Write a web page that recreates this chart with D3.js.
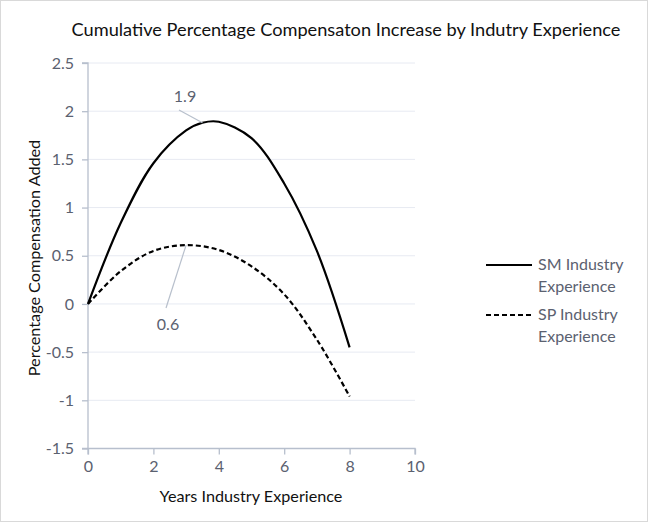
<!DOCTYPE html>
<html><head><meta charset="utf-8">
<script src="https://cdn.jsdelivr.net/npm/d3@7"></script>
<style>body{margin:0;background:#fff}svg{display:block}text{font-family:Lato,"Open Sans",sans-serif}</style>
</head><body><svg id="c" width="649" height="523"></svg>
<script>
const title = "Cumulative Percentage Compensaton Increase by Indutry Experience";
const xTicks = [0, 2, 4, 6, 8, 10];
const yTicks = [-1.5, -1, -0.5, 0, 0.5, 1, 1.5, 2, 2.5];
const smX = [0, 1, 2, 3, 3.5, 4, 5, 6, 7, 8];
const smY = [0, 0.84, 1.46, 1.80, 1.88, 1.89, 1.72, 1.25, 0.55, -0.45];
const spX = [0, 1, 2, 3, 4, 5, 6, 7, 8];
const spY = [0, 0.34, 0.55, 0.61, 0.56, 0.39, 0.10, -0.37, -0.96];
const seriesNames = ["SM Industry Experience", "SP Industry Experience"];
const labels = [{s: 0, i: 4, text: "1.9"}, {s: 1, i: 3, text: "0.6"}];

const svg = d3.select("#c");
svg.append("rect").attr("x", 0.5).attr("y", 0.5).attr("width", 647).attr("height", 521)
  .attr("fill", "#fff").attr("stroke", "#d9d9d9");

const x = d3.scaleLinear().domain([0, 10]).range([88, 415]);
const y = d3.scaleLinear().domain([-1.5, 2.5]).range([448.5, 63]);

const grid = svg.append("g");
yTicks.filter(t => t !== -1.5).forEach(t => {
  grid.append("line").attr("x1", x(0)).attr("x2", x(10)).attr("y1", y(t)).attr("y2", y(t))
    .attr("stroke", "#e7eaf2").attr("stroke-width", 1);
});

const axCol = "#b7bfcd", txtCol = "#5b6170";
const fmt = v => String(v);
const yAxis = svg.append("g").attr("transform", `translate(${x(0)},0)`)
  .call(d3.axisLeft(y).tickValues(yTicks).tickSize(6).tickFormat(fmt));
const xAxis = svg.append("g").attr("transform", `translate(0,${y(-1.5)})`)
  .call(d3.axisBottom(x).tickValues(xTicks).tickSize(6).tickFormat(fmt));
[yAxis, xAxis].forEach(a => {
  a.select(".domain").attr("stroke", axCol).attr("stroke-width", 1.3);
  a.selectAll(".tick line").attr("stroke", axCol).attr("stroke-width", 1.3);
  a.selectAll(".tick text").attr("fill", txtCol).style("font-size", "16px")
    .style("font-family", "Lato,'Open Sans',sans-serif");
});
yAxis.select(".domain").attr("d", `M-6,${y(2.5)}H0V${y(-1.5)}H-6`);
yAxis.selectAll(".tick text").attr("x", -14);
xAxis.select(".domain").attr("d", `M${x(0)},6V0H${x(10)}V6`);
xAxis.selectAll(".tick text").attr("y", 12);

svg.append("text").attr("x", 346).attr("y", 36).attr("text-anchor", "middle")
  .attr("fill", "#111").style("font-size", "18.2px").text(title);
svg.append("text").attr("x", 251).attr("y", 502).attr("text-anchor", "middle")
  .attr("fill", "#111").style("font-size", "16.2px").text("Years Industry Experience");
svg.append("text").attr("transform", "translate(40,258) rotate(-90)").attr("text-anchor", "middle")
  .attr("fill", "#111").style("font-size", "16.2px").text("Percentage Compensation Added");

const line = d3.line().x(d => x(d[0])).y(d => y(d[1])).curve(d3.curveCatmullRom.alpha(0.5));
const smData = smX.map((v, i) => [v, smY[i]]);
const spData = spX.map((v, i) => [v, spY[i]]);
const data = [smData, spData];
const dashes = [null, "5,3"];
data.forEach((d, k) => {
  svg.append("path").attr("d", line(d)).attr("fill", "none").attr("stroke", "#000")
    .attr("stroke-width", 2.2).attr("stroke-dasharray", dashes[k]);
});

const lab = [
  {tx: 185, ty: 102, lx1: 179, ly1: 110},
  {tx: 168, ty: 330, lx1: 166, ly1: 308}
];
labels.forEach((l, k) => {
  const d = data[l.s][l.i];
  svg.append("line").attr("x1", lab[k].lx1).attr("y1", lab[k].ly1)
    .attr("x2", x(d[0])).attr("y2", y(d[1])).attr("stroke", "#b8c0cc").attr("stroke-width", 1.2);
  svg.append("text").attr("x", lab[k].tx).attr("y", lab[k].ty).attr("text-anchor", "middle")
    .attr("fill", txtCol).style("font-size", "16px").text(l.text);
});

const legY = [265, 315];
seriesNames.forEach((n, k) => {
  svg.append("line").attr("x1", 486).attr("x2", 532).attr("y1", legY[k]).attr("y2", legY[k])
    .attr("stroke", "#000").attr("stroke-width", 2.2).attr("stroke-dasharray", dashes[k]);
  const parts = [n.replace(" Experience", ""), "Experience"];
  parts.forEach((p, j) => {
    svg.append("text").attr("x", 538).attr("y", legY[k] + 5 + j * 22)
      .attr("fill", txtCol).style("font-size", "16px").text(p);
  });
});
</script></body></html>
